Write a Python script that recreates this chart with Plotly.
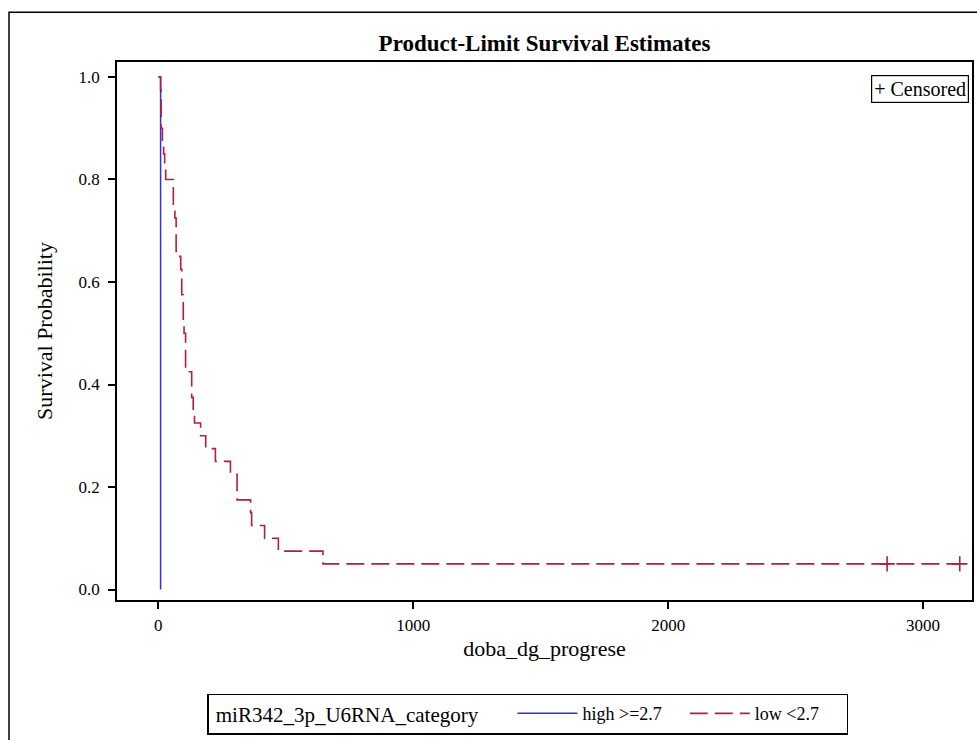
import plotly.graph_objects as go

# ---- data ----
high_time = [0, 9]
high_surv = [1.0, 0.0]

low_time = [0, 9, 11, 16, 21, 25, 29, 59, 65, 70, 88, 92, 98, 101, 107, 131, 137, 142,
            166, 186, 224, 283, 309, 362, 366, 417, 471, 646, 3144]
low_surv = [1.0, 0.975, 0.9, 0.875, 0.85, 0.825, 0.8, 0.75, 0.725, 0.65, 0.625, 0.575,
            0.525, 0.5, 0.425, 0.375, 0.35, 0.325, 0.3, 0.275, 0.25, 0.225, 0.175, 0.15,
            0.125, 0.1, 0.075, 0.05, 0.05]

cens_time = [2859, 3144]
cens_surv = [0.05, 0.05]

x_ticks = [0, 1000, 2000, 3000]
y_ticks = [0.0, 0.2, 0.4, 0.6, 0.8, 1.0]

group_names = ["high >=2.7", "low <2.7"]
legend_title = "miR342_3p_U6RNA_category"

BLUE = "#3030e8"
RED = "#b41e3c"
FONT = "Liberation Serif"

W, H = 977, 740
L, R, T, B = 117, 972, 62, 602
PW, PH = R - L, B - T


def px(x):
    return (x - L) / PW


def py(y):
    return (B - y) / PH


fig = go.Figure()
fig.add_trace(go.Scatter(x=high_time, y=high_surv, mode="lines", line_shape="hv",
                         line=dict(color=BLUE, width=1.5), name=group_names[0] + "    "))
fig.add_trace(go.Scatter(x=low_time, y=low_surv, mode="lines", line_shape="hv",
                         line=dict(color=RED, width=1.6, dash="18px,7px"),
                         name=group_names[1] + "     "))
fig.add_trace(go.Scatter(x=cens_time, y=cens_surv, mode="markers", showlegend=False,
                         marker=dict(symbol="cross-thin", size=11,
                                     line=dict(color=RED, width=1.6))))

fig.update_layout(
    width=W, height=H,
    margin=dict(l=L, r=W - R, t=T, b=H - B),
    paper_bgcolor="white", plot_bgcolor="white",
    font=dict(family=FONT, size=17, color="black"),
    title=dict(text="<b>Product-Limit Survival Estimates</b>", x=px(544.5), xref="paper",
               y=1 - 43 / H, yref="container", xanchor="center", yanchor="middle",
               font=dict(family=FONT, size=23, color="black")),
    xaxis=dict(range=[-162, 3192], tickvals=x_ticks, showgrid=False, zeroline=False,
               showline=True, linecolor="black", linewidth=1.6, mirror=True,
               ticks="outside", ticklen=7, tickwidth=1.6, tickcolor="black",
               tickfont=dict(size=17), ticklabelstandoff=2, automargin=False,
               title=dict(text="doba_dg_progrese", font=dict(size=22), standoff=6)),
    yaxis=dict(range=[-0.0204, 1.0292], tickvals=y_ticks, tickformat=".1f", showgrid=False,
               zeroline=False, showline=True, linecolor="black", linewidth=1.6, mirror=True,
               ticks="outside", ticklen=7, tickwidth=1.6, tickcolor="black",
               tickfont=dict(size=17), ticklabelstandoff=5, automargin=False,
               title=dict(text="Survival Probability", font=dict(size=22), standoff=20)),
    legend=dict(orientation="h", x=px(207), xanchor="left", y=py(696), yanchor="top",
                bordercolor="black", borderwidth=1.5, bgcolor="white",
                font=dict(family=FONT, size=18),
                title=dict(text=" " + legend_title + "     ", font=dict(family=FONT, size=21)),
                itemwidth=60, tracegroupgap=0),
    shapes=[dict(type="rect", xref="paper", yref="paper",
                 x0=px(9), x1=px(990), y0=py(760), y1=py(12),
                 line=dict(color="black", width=1.5), fillcolor="rgba(0,0,0,0)", layer="below")],
    annotations=[dict(text="+ Censored", xref="paper", yref="paper", x=px(969), y=py(75),
                      xanchor="right", yanchor="top", showarrow=False,
                      font=dict(family=FONT, size=20, color="black"),
                      bordercolor="black", borderwidth=1.2, borderpad=2, bgcolor="white")],
)

fig.write_html("out.html")
